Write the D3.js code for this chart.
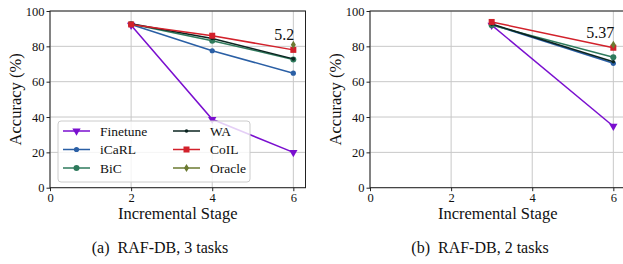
<!DOCTYPE html>
<html>
  <head>
    <meta charset="utf-8">
    <style>
      svg text { font-family: "Liberation Serif", "Times New Roman", "DejaVu Serif", serif !important; }
    </style>
  </head>
  <body style="margin:0">
    <svg width="623" height="264"></svg>
    <script src="https://cdn.jsdelivr.net/npm/d3@7"></script>
    <script>
      // methods and colours
      const methods = ['Finetune', 'iCaRL', 'BiC', 'WA', 'CoIL', 'Oracle'];
      const colours = ['#7a0fcf', '#2a5fa5', '#2e7a5c', '#0b2420', '#d2212b', '#6b7a31'];
      const markers = ['triDown', 'dot', 'circle', 'point', 'square', 'diamond'];

      // (a) RAF-DB, 3 tasks
      const stagesA = [2, 4, 6];
      const finetuneA = [92.0, 38.7, 20.0];
      const icarlA = [92.4, 77.5, 64.8];
      const bicA = [92.6, 83.2, 72.6];
      const waA = [92.8, 84.4, 72.9];
      const coilA = [92.4, 86.0, 78.0];
      const oracleA = [null, null, 80.9];

      // (b) RAF-DB, 2 tasks
      const stagesB = [3, 6];
      const finetuneB = [92.0, 34.8];
      const icarlB = [92.4, 70.4];
      const bicB = [92.0, 73.8];
      const waB = [92.6, 71.3];
      const coilB = [93.8, 79.2];
      const oracleB = [null, 80.9];

      const xTicks = [0, 2, 4, 6];
      const yTicks = [0, 20, 40, 60, 80, 100];

      const panels = [
        { left: 50, stages: stagesA, series: [finetuneA, icarlA, bicA, waA, coilA, oracleA],
          note: '5.2', noteY: 83.8, caption: '(a)  RAF-DB, 3 tasks', legend: true },
        { left: 370, stages: stagesB, series: [finetuneB, icarlB, bicB, waB, coilB, oracleB],
          note: '5.37', noteY: 85.0, caption: '(b)  RAF-DB, 2 tasks', legend: false }
      ];

      const fontStack = '"Liberation Serif", "Times New Roman", "DejaVu Serif", serif';
      const svg = d3.select('svg');
      const plotTop = 11, plotBottom = 187.7, plotW = 255.5;

      function setFont(sel, size) {
        return sel.attr('font-family', fontStack)
          .style('font-family', fontStack, 'important')
          .style('font-size', size + 'px')
          .attr('fill', '#111');
      }

      function label(g, txt, size) {
        return setFont(g.append('text'), size).text(txt);
      }

      function drawMarker(g, kind, x, y, c) {
        if (kind === 'triDown') {
          g.append('path').attr('d', d3.symbol(d3.symbolTriangle, 30)())
            .attr('transform', `translate(${x},${y}) rotate(180)`).attr('fill', c);
        } else if (kind === 'square') {
          g.append('rect').attr('x', x - 3).attr('y', y - 3).attr('width', 6).attr('height', 6).attr('fill', c);
        } else if (kind === 'diamond') {
          g.append('path').attr('d', `M${x},${y - 4}L${x + 2.5},${y}L${x},${y + 4}L${x - 2.5},${y}Z`).attr('fill', c);
        } else {
          const r = kind === 'circle' ? 3 : (kind === 'dot' ? 2.6 : 1.8);
          g.append('circle').attr('cx', x).attr('cy', y).attr('r', r).attr('fill', c);
        }
      }

      panels.forEach(function(p) {
        const x = d3.scaleLinear().domain([0, 6.3]).range([p.left, p.left + plotW]);
        const y = d3.scaleLinear().domain([0, 100]).range([plotBottom, plotTop]);
        const g = svg.append('g');

        // grid
        g.selectAll('.gx').data(xTicks).enter().append('line')
          .attr('x1', d => x(d)).attr('x2', d => x(d)).attr('y1', plotTop).attr('y2', plotBottom)
          .attr('stroke', '#c8c8c8').attr('stroke-width', 1);
        g.selectAll('.gy').data(yTicks).enter().append('line')
          .attr('x1', p.left).attr('x2', p.left + plotW).attr('y1', d => y(d)).attr('y2', d => y(d))
          .attr('stroke', '#c8c8c8').attr('stroke-width', 1);

        // series
        p.series.forEach(function(vals, i) {
          const pts = p.stages.map((s, j) => [s, vals[j]]).filter(d => d[1] !== null);
          g.append('path')
            .attr('d', d3.line().x(d => x(d[0])).y(d => y(d[1]))(pts))
            .attr('fill', 'none').attr('stroke', colours[i]).attr('stroke-width', 1.5);
          pts.forEach(d => drawMarker(g, markers[i], x(d[0]), y(d[1]), colours[i]));
        });

        // frame
        g.append('rect').attr('x', p.left).attr('y', plotTop).attr('width', plotW).attr('height', plotBottom - plotTop)
          .attr('fill', 'none').attr('stroke', '#222').attr('stroke-width', 1);

        // axes
        const xa = g.append('g').attr('transform', `translate(0,${plotBottom})`)
          .call(d3.axisBottom(x).tickValues(xTicks).tickFormat(d3.format('d')).tickSize(3.5).tickPadding(2));
        const ya = g.append('g').attr('transform', `translate(${p.left},0)`)
          .call(d3.axisLeft(y).tickValues(yTicks).tickFormat(d3.format('d')).tickSize(3.5).tickPadding(2));
        [xa, ya].forEach(a => {
          a.attr('font-family', fontStack).attr('font-size', null);
          a.select('.domain').remove();
          a.selectAll('line').attr('stroke', '#222');
          setFont(a.selectAll('text'), 12.5);
        });

        // labels
        label(g, 'Incremental Stage', 16.5).attr('x', p.left + plotW / 2).attr('y', 219)
          .attr('text-anchor', 'middle');
        label(g, 'Accuracy (%)', 16.5)
          .attr('transform', `translate(${p.left - 29},${(plotTop + plotBottom) / 2}) rotate(-90)`)
          .attr('text-anchor', 'middle');
        label(g, p.note, 16).attr('x', x(6) + 1).attr('y', y(p.noteY)).attr('text-anchor', 'end');
        label(g, p.caption, 16).attr('x', p.left + 110).attr('y', 253)
          .attr('text-anchor', 'middle').style('white-space', 'pre');

        if (p.legend) {
          const lg = g.append('g');
          lg.append('rect').attr('x', 58).attr('y', 121).attr('width', 192).attr('height', 61).attr('rx', 3)
            .attr('fill', 'white').attr('fill-opacity', 0.8).attr('stroke', '#ccc');
          methods.forEach(function(m, i) {
            const col = Math.floor(i / 3), row = i % 3;
            const lx = 63 + col * 110, ly = 131 + row * 18.5;
            lg.append('line').attr('x1', lx).attr('x2', lx + 27).attr('y1', ly).attr('y2', ly)
              .attr('stroke', colours[i]).attr('stroke-width', 1.5);
            drawMarker(lg, markers[i], lx + 13.5, ly, colours[i]);
            label(lg, m, 13.5).attr('x', lx + 37).attr('y', ly + 4.5);
          });
        }
      });
    </script>
  </body>
</html>
